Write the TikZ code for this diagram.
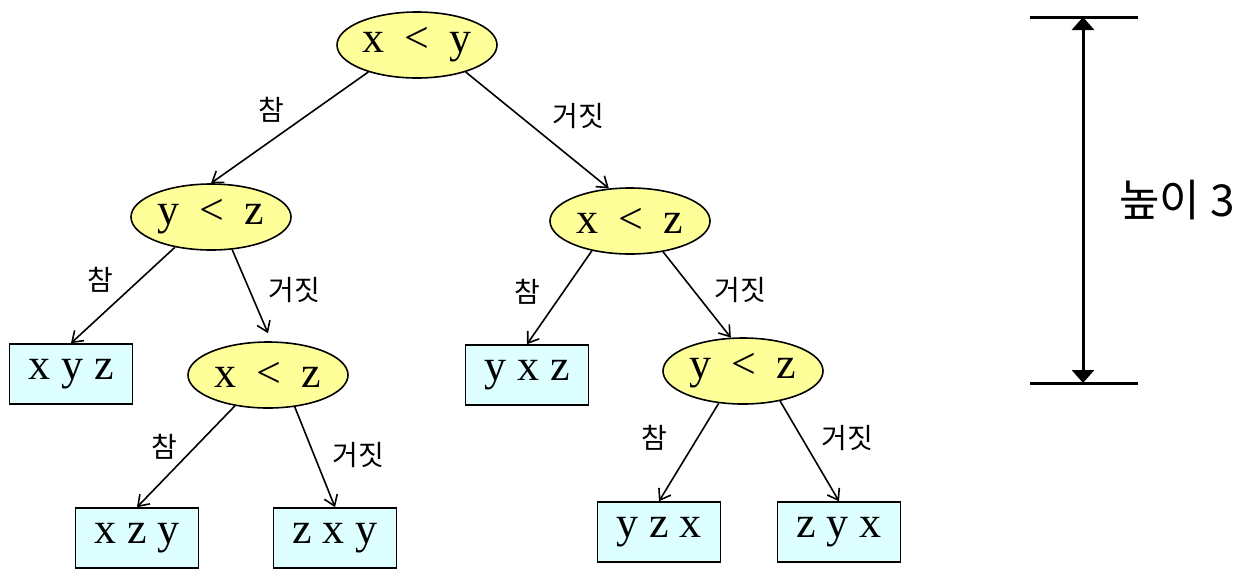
\documentclass[tikz,border=0pt]{standalone}
\usepackage{fontspec}
\setmainfont{Liberation Serif}
\newfontfamily\kr{Noto Sans CJK KR}
\usetikzlibrary{shapes.geometric,arrows.meta}
\definecolor{condfill}{HTML}{FFFF99}
\definecolor{leaffill}{HTML}{DDFFFF}
\tikzset{
  cond/.style={ellipse, draw, line width=0.8pt, fill=condfill, minimum width=80pt, minimum height=33pt, inner sep=0pt, font=\fontsize{22}{24}\selectfont},
  leaf/.style={rectangle, draw, line width=0.8pt, fill=leaffill, minimum width=61.5pt, minimum height=30pt, inner sep=0pt, font=\fontsize{22}{24}\selectfont},
  edge/.style={draw, line width=0.8pt, -{Straight Barb[length=5pt,width=7pt]}},
  elab/.style={font=\kr\fontsize{14}{16}\selectfont, inner sep=0pt},
  bar/.style={line width=1.5pt},
}
\newcommand{\lt}{\hspace{10pt}<\hspace{10pt}}
\begin{document}
\begin{tikzpicture}[x=0.5pt,y=-0.5pt]
\useasboundingbox (0,0) rectangle (1246,580);
% condition nodes
\node[cond] (r) at (417,45) {x\lt y};
\node[cond] (a) at (211,217) {y\lt z};
\node[cond] (b) at (630,221) {x\lt z};
\node[cond] (c) at (268,375) {x\lt z};
\node[cond] (d) at (743,371) {y\lt z};
% leaves
\node[leaf] (l1) at (71,374) {x y z};
\node[leaf] (l2) at (527,375) {y x z};
\node[leaf] (l3) at (137,538) {x z y};
\node[leaf] (l4) at (335,538) {z x y};
\node[leaf] (l5) at (659,532) {y z x};
\node[leaf] (l6) at (839,532) {z y x};
% edges
\draw[edge] (r.209) -- (a.north);
\draw[edge] (r.331) -- (b.123);
\draw[edge] (a.220) -- (l1.north);
\draw[edge] (a.303) -- ([yshift=4pt]c.north);
\draw[edge] (b.218) -- (l2.north);
\draw[edge] (b.317) -- (d.110);
\draw[edge] (c.223) -- (l3.north);
\draw[edge] (c.310) -- (l4.north);
\draw[edge] (d.233) -- (l5.north);
\draw[edge] (d.321) -- (l6.north);
% edge labels
\node[elab] (t1) at (271,110) {참};
\node[elab] (f1) at (578,116) {거짓};
\node[elab] (t2) at (100,280) {참};
\node[elab] (f2) at (294,290) {거짓};
\node[elab] (t3) at (527,292) {참};
\node[elab] (f3) at (740,290) {거짓};
\node[elab] (t4) at (164,447) {참};
\node[elab] (f4) at (358,455) {거짓};
\node[elab] (t5) at (654,438) {참};
\node[elab] (f5) at (847,438) {거짓};
% height marker
\coordinate (tl) at (1030,17);
\coordinate (tr) at (1138,17);
\coordinate (bl) at (1030,383);
\coordinate (br) at (1138,383);
\coordinate (ta) at (1083,17);
\coordinate (ba) at (1083,383);
\draw[bar] (tl) -- (tr);
\draw[bar] (bl) -- (br);
\draw[bar, {Triangle[length=6.5pt,width=11pt]}-{Triangle[length=6.5pt,width=11pt]}] (ta) -- (ba);
\node[font=\kr\fontsize{22}{24}\selectfont, inner sep=0pt] (h) at (1177,200) {높이 3};
\end{tikzpicture}
\end{document}
